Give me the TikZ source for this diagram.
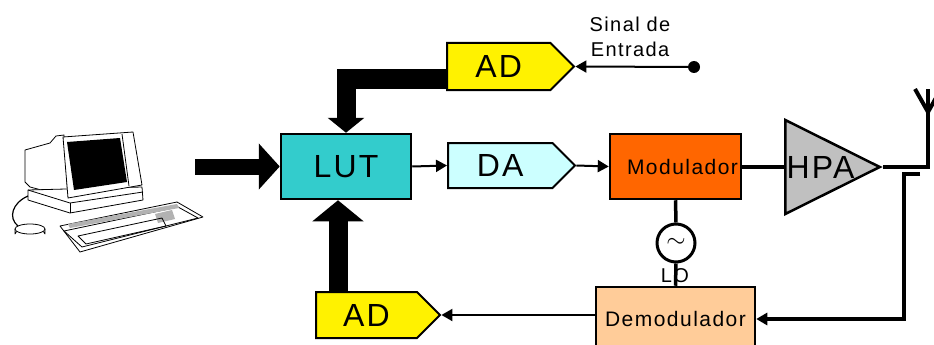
\documentclass[tikz,border=0pt]{standalone}
\usepackage{fontspec}
\setmainfont[LetterSpace=7]{Liberation Sans}
\usetikzlibrary{shapes.symbols,shapes.geometric,arrows.meta}

\definecolor{lutcyan}{HTML}{33CCCC}
\definecolor{dacyan}{HTML}{CCFFFF}
\definecolor{modorange}{HTML}{FF6600}
\definecolor{demodpeach}{HTML}{FFCC99}
\definecolor{hpagray}{HTML}{C0C0C0}

\begin{document}
\begin{tikzpicture}[x=1pt, y=-1pt,
  every node/.style = {font=\fontsize{20}{25}\selectfont},
  block/.style = {draw, line width=2.5pt, inner sep=0pt},
  conv/.style = {signal, signal to=east, signal pointer angle=90, draw,
    line width=2pt, inner sep=0pt, minimum width=127pt, minimum height=47pt,
    fill=yellow, font=\fontsize{32}{32}\selectfont},
  wire/.style = {line width=2pt, -{Triangle[length=11pt,width=12pt]}},
  bus/.style = {line width=19pt, -{Triangle[length=21pt,width=48pt]}}
  ]
  \path[use as bounding box, clip] (0,0) rectangle (934,345);

  % terminal
  \begin{scope}[line width=0.8pt, line join=round]
    \draw[fill=white] (25,150) -- (50,143) -- (56,136) -- (64,135) -- (68,197)
      -- (30,187) -- (25,182) -- cycle;
    \draw[fill=white] (28,190) -- (142,187) -- (143,200) -- (70,213) -- (28,200) -- cycle;
    \draw (28,190) -- (70,203) -- (143,192);
    \draw (70,203) -- (70,213);
    \draw[fill=white] (63,137) -- (133,132) -- (142,185) -- (68,198) -- cycle;
    \draw (122,134) -- (129,186);
    \fill (67,142) -- (120,138) -- (127,182) -- (74,190) -- cycle;
    \draw[line width=1.2pt] (28,196) .. controls (12,203) and (8,218) .. (18,226);
    \draw[fill=white] (15,229) -- (15,234) arc[start angle=180, end angle=360,
      x radius=15, y radius=5] -- (45,229);
    \draw[fill=white] (30,229) ellipse[x radius=15, y radius=5];
    \draw[fill=white] (60,226) -- (177,202) -- (203,217) -- (80,252) -- cycle;
    \draw (64,231) -- (178,207) -- (198,218) -- (82,247) -- cycle;
    \fill[gray!60] (68,224) -- (177,204) -- (179,208) -- (70,228) -- cycle;
    \fill[gray!60] (155,214) -- (172,210) -- (175,219) -- (158,223) -- cycle;
    \draw (78,236) -- (162,218) -- (166,226) -- (86,244) -- cycle;
  \end{scope}

  \node[block, fill=lutcyan, minimum width=130pt, minimum height=65pt,
    font=\fontsize{32}{32}\selectfont] (lut) at (346,166.5) {LUT};
  \node[conv, anchor=west] (ad1) at (446,66.5) {AD};
  \node[conv, fill=dacyan, minimum height=45pt, anchor=west] (da) at (447,165.5) {DA};
  \node[block, fill=modorange, minimum width=131pt, minimum height=65pt,
    text width=125pt, align=right,
    font=\fontsize{21}{21}\selectfont] (mod) at (675.5,166.5) {Modulador};
  \node[isosceles triangle, isosceles triangle stretches, draw, line width=2.5pt,
    fill=hpagray, inner sep=0pt, minimum width=94pt, minimum height=84pt,
    anchor=apex, font=\fontsize{32}{32}\selectfont] (hpa) at (883,167) {HPA};
  \node[circle, draw, line width=3pt, minimum size=38pt, inner sep=0pt,
    font=\fontsize{30}{30}\selectfont] (lo) at (676,243) {$\sim$};
  \node (lolabel) at (675,276) {LO};
  \node[block, fill=demodpeach, minimum width=159pt, minimum height=64pt,
    font=\fontsize{21}{21}\selectfont] (demod) at (675.5,319) {Demodulador};
  \node[conv, minimum width=124pt, minimum height=46pt, anchor=west] (ad2) at (315,315) {AD};
  \node[circle, fill, inner sep=0pt, minimum size=12pt] (in) at (694,67) {};
  \node[align=center] (sinal) at (630,37) {Sinal de\\Entrada};

  \coordinate (pc) at (195,166.5);
  \coordinate (fb) at ([xshift=-8pt]lut.south);
  \coordinate (ant) at (928,167);
  \coordinate (anttop) at (928,89);
  \coordinate (cpl) at (904,174);
  \coordinate (cplend) at (920,174);

  \draw[bus, line width=16pt, -{Triangle[length=21pt,width=45pt]}] (pc) -- (lut.west);
  \draw[bus, -{Triangle[length=15pt,width=36pt]}] ([yshift=-12.5pt]ad1.west) -| (lut.north);
  \draw[bus, -{Triangle[length=21pt,width=50pt]}] (fb |- ad2.north) -- (fb);

  \draw[wire] (in) -- (ad1.east);
  \draw[wire] (lut.east) -- (da.west);
  \draw[wire] (da.east) -- (mod.west);
  \draw[wire] (demod.west |- ad2.east) -- (ad2.east);

  \draw[line width=4pt] (mod.east) -- (mod.east -| hpa.180);
  \draw[line width=4pt] (hpa.apex) -- (ant) -- (anttop);
  \draw[line width=4pt] (915,89) -- (928,112) -- (941,89);
  \draw[wire, line width=3.5pt] (cplend) -- (cpl) |- (demod.east);
  \draw[line width=3.5pt] (mod.south) -- (lo.north);
  \draw[line width=3.5pt] (lo.south) -- (demod.north);
\end{tikzpicture}
\end{document}
